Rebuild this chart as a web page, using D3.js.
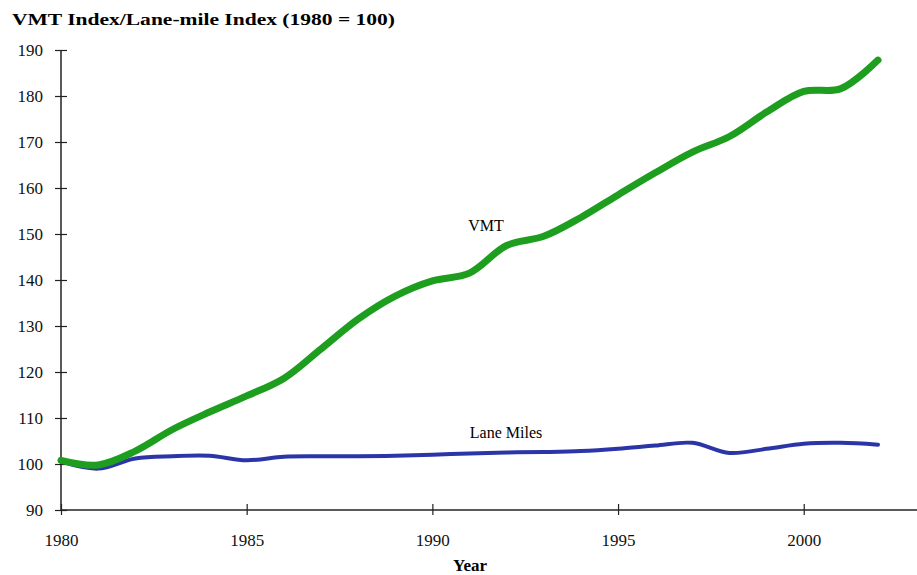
<!DOCTYPE html>
<html lang="en">
<head>
<meta charset="utf-8">
<title>VMT Index / Lane-mile Index</title>
<script src="https://cdn.jsdelivr.net/npm/d3@7"></script>
<style>
  body { margin: 0; background: #fff; }
  text { font-family: "Liberation Serif", "Times New Roman", serif; }
</style>
</head>
<body>
<script>
// data (index, 1980 = 100)
var years = d3.range(1980, 2003);
var vmt = [100.8, 99.8, 102.8, 107.5, 111.3, 114.8, 118.6, 125.0, 131.5, 136.5, 139.8, 141.5,
           147.5, 149.5, 153.6, 158.5, 163.3, 167.8, 171.2, 176.5, 181.0, 181.6, 187.8];
var laneMiles = [100.5, 99.0, 101.2, 101.7, 101.8, 100.8, 101.6, 101.7, 101.7, 101.8, 102.0, 102.3,
                 102.5, 102.6, 102.8, 103.3, 104.0, 104.6, 102.4, 103.3, 104.4, 104.6, 104.2];
var xTicks = [1980, 1985, 1990, 1995, 2000];
var yTicks = d3.range(90, 191, 10);

var w = 917, h = 575;
var plotLeft = 61, plotRight = 917, plotTop = 50, plotBottom = 510;

var svg = d3.select("body").append("svg")
    .attr("width", w)
    .attr("height", h);

var x = d3.scaleLinear().domain([1980, 2003.05]).range([plotLeft, plotRight]);
var y = d3.scaleLinear().domain([90, 190]).range([plotBottom, plotTop]);

// title
svg.append("text")
    .attr("x", 12)
    .attr("y", 25)
    .attr("font-size", 16)
    .attr("font-weight", "bold")
    .attr("textLength", 383)
    .attr("lengthAdjust", "spacingAndGlyphs")
    .text("VMT Index/Lane-mile Index (1980 = 100)");

// y axis
var yAxis = svg.append("g")
    .attr("transform", `translate(${plotLeft},0)`)
    .call(d3.axisLeft(y).tickValues(yTicks).tickSize(5).tickPadding(13));
yAxis.select(".domain").attr("d", `M0,${plotTop}V${plotBottom}`).attr("stroke", "#222").attr("stroke-width", 1.5);
yAxis.selectAll(".tick line").attr("x1", -6).attr("x2", 6).attr("stroke", "#222").attr("stroke-width", 1.2);
yAxis.selectAll(".tick text")
    .attr("font-family", "Liberation Serif, serif")
    .attr("font-size", 17)
    .attr("fill", "#111");

// x axis
var xAxis = svg.append("g")
    .attr("transform", `translate(0,${plotBottom})`)
    .call(d3.axisBottom(x).tickValues(xTicks).tickFormat(d3.format("d")).tickSize(5).tickPadding(19));
xAxis.select(".domain").attr("d", `M${plotLeft},0H${plotRight}`).attr("stroke", "#222").attr("stroke-width", 1.5);
xAxis.selectAll(".tick line").attr("y1", -6).attr("y2", 5).attr("stroke", "#222").attr("stroke-width", 1.2);
xAxis.selectAll(".tick text")
    .attr("font-family", "Liberation Serif, serif")
    .attr("font-size", 17)
    .attr("fill", "#111");

svg.append("text")
    .attr("x", 470)
    .attr("y", 571)
    .attr("text-anchor", "middle")
    .attr("font-size", 17)
    .attr("font-weight", "bold")
    .text("Year");

// lines
var line = d3.line()
    .x((d, i) => x(years[i]))
    .y(d => y(d))
    .curve(d3.curveCatmullRom.alpha(0.5));

svg.append("path")
    .datum(laneMiles)
    .attr("fill", "none")
    .attr("stroke", "#2b35a8")
    .attr("stroke-width", 4)
    .attr("stroke-linecap", "round")
    .attr("d", line);

svg.append("path")
    .datum(vmt)
    .attr("fill", "none")
    .attr("stroke", "#1e9e1e")
    .attr("stroke-width", 7)
    .attr("stroke-linecap", "round")
    .attr("d", line);

// series labels
svg.append("text")
    .attr("x", 486)
    .attr("y", 231)
    .attr("text-anchor", "middle")
    .attr("font-size", 16)
    .text("VMT");

svg.append("text")
    .attr("x", 506)
    .attr("y", 438)
    .attr("text-anchor", "middle")
    .attr("font-size", 16)
    .text("Lane Miles");
</script>
</body>
</html>
